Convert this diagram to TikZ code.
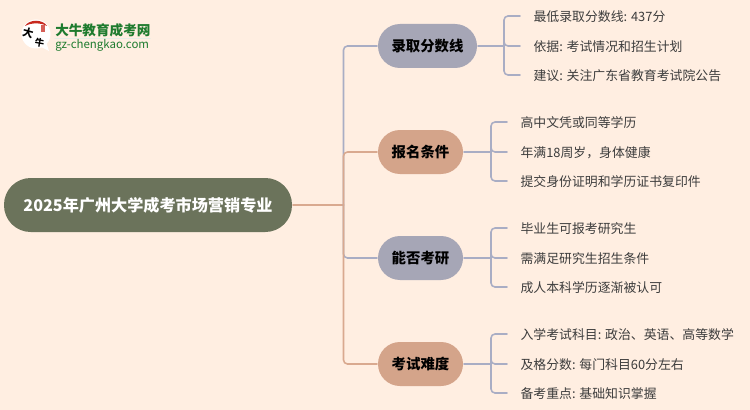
\documentclass[tikz,border=0pt]{standalone}
\usepackage{fontspec}
\setmainfont{Noto Sans CJK SC}
\usetikzlibrary{positioning}
\definecolor{paper}{HTML}{FFEEE1}
\definecolor{rootgreen}{HTML}{6B735B}
\definecolor{slategrey}{HTML}{A6A6B6}
\definecolor{claytan}{HTML}{D4A48A}
\definecolor{linkblue}{HTML}{A9ADC4}
\definecolor{linktan}{HTML}{D9A98F}
\definecolor{leafink}{HTML}{3C3C3C}
\definecolor{logogreen}{HTML}{1E7B2E}
\definecolor{logored}{HTML}{C8281E}
\tikzset{
  rootbox/.style={fill=rootgreen,text=white,rounded corners=20pt,font=\fontsize{12.1pt}{14pt}\selectfont\bfseries,minimum width=216pt,minimum height=40.5pt,inner sep=0pt,outer sep=0.75pt},
  branchbox/.style={rounded corners=16.5pt,font=\fontsize{10.8pt}{13pt}\selectfont\bfseries,minimum height=33pt,inner sep=0pt,outer sep=0.75pt,text=black},
  leafbox/.style={anchor=west,inner ysep=0pt,inner xsep=10pt,font=\fontsize{9.65pt}{12pt}\selectfont,text=leafink,text height=9.6pt,text depth=1.5pt},
  bluelink/.style={draw=linkblue,line width=1.2pt,rounded corners=3pt},
  tanlink/.style={draw=linktan,line width=1.2pt,rounded corners=3pt}
}
\begin{document}
\begin{tikzpicture}[x=0.75pt,y=-0.75pt,line cap=round,line join=round]
\fill[paper] (0,0) rectangle (750,410);
\useasboundingbox (0,0) rectangle (750,410);
% main nodes
\node[rootbox] (root) at (148,205) {2025年广州大学成考市场营销专业};
\node[branchbox,fill=slategrey,minimum width=74.25pt] (score) at (427.5,46) {录取分数线};
\node[branchbox,fill=claytan,minimum width=63.75pt] (entry) at (420.5,152) {报名条件};
\node[branchbox,fill=slategrey,minimum width=63.75pt] (study) at (420.5,258) {能否考研};
\node[branchbox,fill=claytan,minimum width=63.75pt] (exam) at (420.5,364) {考试难度};
% leaves
\node[leafbox] (score1) at (520,16) {最低录取分数线: 437分};
\node[leafbox] (score2) at (520,46) {依据: 考试情况和招生计划};
\node[leafbox] (score3) at (520,75) {建议: 关注广东省教育考试院公告};
\node[leafbox] (entry1) at (507,122) {高中文凭或同等学历};
\node[leafbox] (entry2) at (507,152) {年满18周岁，身体健康};
\node[leafbox] (entry3) at (507,181) {提交身份证明和学历证书复印件};
\node[leafbox] (study1) at (507,228) {毕业生可报考研究生};
\node[leafbox] (study2) at (507,258) {需满足研究生招生条件};
\node[leafbox] (study3) at (507,287) {成人本科学历逐渐被认可};
\node[leafbox] (exam1) at (507,334) {入学考试科目: 政治、英语、高等数学};
\node[leafbox] (exam2) at (507,364) {及格分数: 每门科目60分左右};
\node[leafbox] (exam3) at (507,393) {备考重点: 基础知识掌握};
% connectors
\coordinate (trunk) at (343.5,205);
\draw[tanlink] (root.east) -- (trunk);
\draw[bluelink] (trunk) |- (score.west);
\draw[bluelink] (trunk) |- (study.west);
\draw[tanlink] (trunk) |- (entry.west);
\draw[tanlink] (trunk) |- (exam.west);
\foreach \b/\d in {score/26,entry/27,study/27,exam/27}{
  \draw[bluelink] (\b.east) -- ++(\d,0) coordinate (\b fork);
  \foreach \k in {1,2,3}
    \draw[bluelink] (\b fork) |- (\b\k.west);
}
% logo
\fill[white] (36,34) circle (14.5);
\fill[white] (39,46) -- (49,51) -- (46,42) -- cycle;
\fill[logored] (25,26) .. controls (29,19) and (43,19) .. (47,26) .. controls (41,22.5) and (31,22.5) .. (25,26) -- cycle;
\fill[logored!75] (40.5,25) rectangle (44.5,32);
\node[inner sep=0pt,font=\fontsize{8pt}{9pt}\selectfont\bfseries,rotate=-15] (logoda) at (28,32.5) {大};
\node[inner sep=0pt,font=\fontsize{7pt}{8pt}\selectfont\bfseries,rotate=-10] (logoniu) at (39.5,43) {牛};
\node[inner sep=0pt,font=\fontsize{10.2pt}{12pt}\selectfont\bfseries,text=logogreen,anchor=west] (logotitle) at (55,30) {大牛教育成考网};
\draw[logogreen!12,line width=1pt] (55,38.5) -- (150,38.5);
\node[inner sep=0pt,font=\fontsize{8.6pt}{10pt}\selectfont,text=logogreen,anchor=west] (logourl) at (55,45) {gz-chengkao.com};
\end{tikzpicture}
\end{document}
